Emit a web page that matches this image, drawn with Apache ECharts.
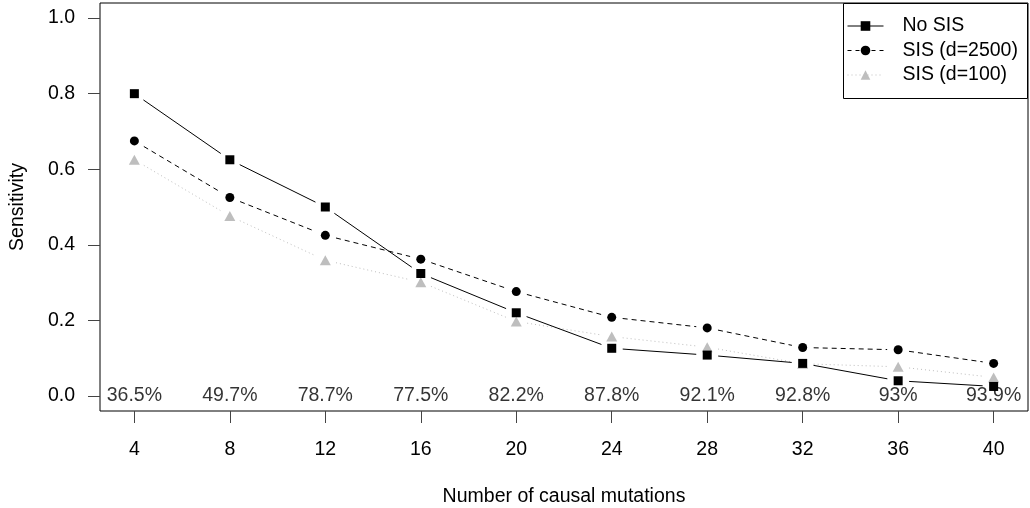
<!DOCTYPE html>
<html>
<head>
<meta charset="utf-8">
<script src="https://cdn.jsdelivr.net/npm/echarts@6/dist/echarts.min.js"></script>
<style>
  html, body { margin: 0; padding: 0; background: #fff; }
  #chart { width: 1030px; height: 508px; }
</style>
</head>
<body>
<div id="chart"></div>
<script>
// Number of causal mutations (x positions)
const causalCounts = [4, 8, 12, 16, 20, 24, 28, 32, 36, 40];
// Sensitivity per method
const noSIS   = [0.800, 0.625, 0.500, 0.324, 0.220, 0.126, 0.108, 0.086, 0.040, 0.025];
const sis2500 = [0.675, 0.525, 0.425, 0.362, 0.276, 0.208, 0.180, 0.128, 0.122, 0.086];
const sis100  = [0.625, 0.476, 0.359, 0.301, 0.197, 0.157, 0.129, 0.085, 0.077, 0.049];
// Percentages printed along the bottom of the panel
const pctLabels = ['36.5%', '49.7%', '78.7%', '77.5%', '82.2%', '87.8%', '92.1%', '92.8%', '93%', '93.9%'];
// Axis ticks
const yTicks = [0, 0.2, 0.4, 0.6, 0.8, 1.0];
const xTicks = [4, 8, 12, 16, 20, 24, 28, 32, 36, 40];

const FONT = 'Liberation Sans, Arial, sans-serif';
const FS = 19.5;
const GAP = 11; // empty space left between a connecting segment and each point

const pairs = ys => causalCounts.map((x, i) => [x, ys[i]]);
const segments = ys => causalCounts.slice(1).map((x, i) => [causalCounts[i], ys[i], x, ys[i + 1]]);

// Connecting segments drawn "both" style: each segment stops short of the points
function segmentSeries(ys, color, dash, z) {
  return {
    type: 'custom', silent: true, z: z,
    data: segments(ys),
    encode: { x: [0, 2], y: [1, 3] },
    renderItem: (params, api) => {
      const a = api.coord([api.value(0), api.value(1)]);
      const b = api.coord([api.value(2), api.value(3)]);
      const dx = b[0] - a[0], dy = b[1] - a[1];
      const len = Math.sqrt(dx * dx + dy * dy);
      if (len <= 2 * GAP) return null;
      const ux = dx / len, uy = dy / len;
      return {
        type: 'line',
        shape: { x1: a[0] + ux * GAP, y1: a[1] + uy * GAP, x2: b[0] - ux * GAP, y2: b[1] - uy * GAP },
        style: { stroke: color, lineWidth: 1, lineDash: dash, fill: null }
      };
    }
  };
}

const chart = echarts.init(document.getElementById('chart'), null, { renderer: 'canvas' });

chart.setOption({
  animation: false,
  backgroundColor: '#fff',
  textStyle: { fontFamily: FONT, color: '#000' },
  grid: {
    left: 100, right: 2, top: 3, bottom: 97,
    containLabel: false, outerBoundsMode: 'none',
    show: true, borderColor: '#000', borderWidth: 1, backgroundColor: 'transparent'
  },
  xAxis: {
    type: 'value', min: 2.56, max: 41.44,
    name: 'Number of causal mutations', nameLocation: 'middle', nameGap: 76,
    nameTextStyle: { fontFamily: FONT, fontSize: FS, color: '#000' },
    axisLine: { show: false, onZero: false },
    splitLine: { show: false },
    axisTick: { show: true, length: 12, customValues: xTicks, lineStyle: { color: '#444', width: 1 } },
    axisLabel: {
      customValues: xTicks, margin: 29,
      fontFamily: FONT, fontSize: FS, color: '#000'
    }
  },
  yAxis: {
    type: 'value', min: -0.04, max: 1.04,
    name: 'Sensitivity', nameLocation: 'middle', nameGap: 72,
    nameTextStyle: { fontFamily: FONT, fontSize: FS, color: '#000' },
    axisLine: { show: false, onZero: false },
    splitLine: { show: false },
    axisTick: { show: true, length: 12, customValues: yTicks, lineStyle: { color: '#444', width: 1 } },
    axisLabel: {
      customValues: yTicks, margin: 25,
      fontFamily: FONT, fontSize: FS, color: '#000',
      formatter: v => v.toFixed(1)
    }
  },
  legend: {
    data: [
      { name: 'No SIS', lineStyle: { color: '#000', width: 1, type: 'solid', opacity: 1 } },
      { name: 'SIS (d=2500)', lineStyle: { color: '#000', width: 1, type: [4, 4], opacity: 1 } },
      { name: 'SIS (d=100)', lineStyle: { color: '#bebebe', width: 1, type: [1, 3], opacity: 1 } }
    ],
    orient: 'vertical', left: 847, top: 16, z: 20,
    itemWidth: 36, itemHeight: 12, itemGap: 4.5,
    padding: 0,
    textStyle: { fontFamily: FONT, fontSize: FS, color: '#000', lineHeight: 20, padding: [0, 0, 0, 14] }
  },
  graphic: [{
    type: 'rect', z: 1,
    shape: { x: 843.5, y: 3.5, width: 184, height: 95 },
    style: { fill: '#fff', stroke: '#000', lineWidth: 1 }
  }],
  series: [
    segmentSeries(sis100, '#bebebe', [1, 3], 2),
    segmentSeries(sis2500, '#000', [5, 4], 3),
    segmentSeries(noSIS, '#000', null, 4),
    {
      name: 'SIS (d=100)', type: 'line', data: pairs(sis100), z: 2,
      symbol: 'triangle', symbolSize: [11, 10],
      itemStyle: { color: '#bebebe' },
      lineStyle: { opacity: 0 }
    },
    {
      name: 'SIS (d=2500)', type: 'line', data: pairs(sis2500), z: 3,
      symbol: 'circle', symbolSize: 9,
      itemStyle: { color: '#000' },
      lineStyle: { opacity: 0 }
    },
    {
      name: 'No SIS', type: 'line', data: pairs(noSIS), z: 4,
      symbol: 'rect', symbolSize: 9,
      itemStyle: { color: '#000' },
      lineStyle: { opacity: 0 }
    },
    {
      name: 'pct', type: 'scatter', z: 5, silent: true,
      data: causalCounts.map((x, i) => [x, 0, pctLabels[i]]),
      symbolSize: 1,
      itemStyle: { color: 'transparent' },
      label: {
        show: true, position: 'inside',
        fontFamily: FONT, fontSize: FS, color: '#000',
        formatter: p => p.data[2]
      }
    }
  ]
});
</script>
</body>
</html>
